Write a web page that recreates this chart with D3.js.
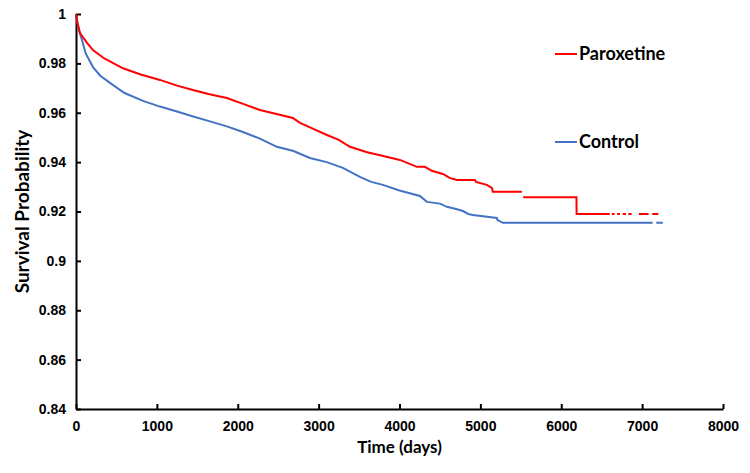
<!DOCTYPE html>
<html>
<head>
<meta charset="utf-8">
<script src="https://cdn.jsdelivr.net/npm/d3@7"></script>
<style>
  body { margin: 0; background: #fff; }
  .axis path, .axis line { stroke: #000; stroke-width: 2px; }
  .lbl { font-family: Lato, "Open Sans", sans-serif; font-weight: bold; fill: #000; }
</style>
</head>
<body>
<div id="chart"></div>
<script>
// survival curves (null = gap in the line)
const paroxetineT = [0, 20, 50, 136, 210, 350, 581, 800, 1038, 1250, 1446, 1650, 1866, 2074, 2274, 2480, 2682, 2769, 2900, 3103, 3250, 3387, 3600, 3800, 4005, 4215, 4313, 4400, 4536, 4620, 4709, 4932, 4945, 5080, 5142, 5154, 5513, 5516,
  5530, 6188, 6190, 6600, 6610, 6625, 6660, 6670, 6690, 6725, 6735, 6760, 6800, 6810, 6830, 6870, 6880, 6960, 7080, 7090, 7125, 7200]
const paroxetineS = [1, 0.996, 0.9923, 0.9883, 0.9854, 0.982, 0.978, 0.9755, 0.9733, 0.971, 0.9692, 0.9675, 0.966, 0.9635, 0.9611, 0.9595, 0.9579, 0.9559, 0.954, 0.951, 0.949, 0.9462, 0.944, 0.9425, 0.9409, 0.9381, 0.9381, 0.9365, 0.9352, 0.9336, 0.9328, 0.9328, 0.932, 0.9308, 0.9296, 0.928, 0.928, null,
  0.9258, 0.9258, 0.919, 0.919, null, 0.919, 0.919, null, 0.919, 0.919, null, 0.919, 0.919, null, 0.919, 0.919, null, 0.919, 0.919, null, 0.919, 0.919]

const controlT = [0, 20, 40, 74, 120, 210, 300, 420, 600, 828, 1038, 1248, 1450, 1656, 1866, 2064, 2274, 2484, 2690, 2892, 3100, 3300, 3510, 3650, 3795, 4000, 4252, 4339, 4500, 4586, 4700, 4784, 4850, 4907, 5204, 5210, 5278, 7130, 7140, 7175, 7256]
const controlS = [1, 0.996, 0.993, 0.9895, 0.984, 0.9785, 0.975, 0.9721, 0.968, 0.9648, 0.9625, 0.9605, 0.9585, 0.9565, 0.9545, 0.9522, 0.9495, 0.9462, 0.9445, 0.9417, 0.940, 0.9377, 0.934, 0.932, 0.9308, 0.9285, 0.9263, 0.9239, 0.9232, 0.9219, 0.921, 0.9202, 0.919, 0.9186, 0.9174, 0.9166, 0.9154, 0.9154, null, 0.9154, 0.9154]

const xTicks = [0, 1000, 2000, 3000, 4000, 5000, 6000, 7000, 8000]
const yTicks = [0.84, 0.86, 0.88, 0.9, 0.92, 0.94, 0.96, 0.98, 1]
const seriesNames = ["Paroxetine", "Control"]
const seriesColors = ["#ff0000", "#4472c4"]

const svgWidth = 750
const svgHeight = 473

let margin = { top: 14, right: 27, bottom: 64, left: 76 }
let width = svgWidth - margin.left - margin.right
let height = svgHeight - margin.top - margin.bottom

let svg = d3.select("#chart")
  .append("svg")
  .attr("width", svgWidth)
  .attr("height", svgHeight)

let chartGroup = svg.append("g")
  .attr("transform", `translate(${margin.left}, ${margin.top})`)

let x = d3.scaleLinear().domain([0, 8000]).range([0, width])
let y = d3.scaleLinear().domain([0.84, 1]).range([height, 0])

// axes, ticks point inward like the original
let xAxis = chartGroup.append("g")
  .attr("class", "axis")
  .attr("transform", `translate(0, ${height})`)
  .call(d3.axisBottom(x).tickValues(xTicks).tickSize(-5).tickSizeOuter(0).tickPadding(12).tickFormat(d3.format("d")))

let yAxis = chartGroup.append("g")
  .attr("class", "axis")
  .call(d3.axisLeft(y).tickValues(yTicks).tickSize(-5).tickSizeOuter(0).tickPadding(10).tickFormat(d => String(+d.toFixed(2))))

;[xAxis, yAxis].forEach(a => {
  a.attr("font-family", "'Liberation Sans', Arial, sans-serif")
    .attr("font-size", 14)
    .attr("font-weight", "bold")
  a.selectAll(".tick text").attr("fill", "#000")
})

let line = d3.line()
  .defined(d => d[1] != null)
  .x(d => x(d[0]))
  .y(d => y(d[1]))

let series = [
  paroxetineT.map((t, i) => [t, paroxetineS[i]]),
  controlT.map((t, i) => [t, controlS[i]])
]

// draw control first so red sits on top
;[1, 0].forEach(i => {
  chartGroup.append("path")
    .datum(series[i])
    .attr("fill", "none")
    .attr("stroke", seriesColors[i])
    .attr("stroke-width", 2)
    .attr("d", line)
})

// legend
let legendY = [54, 142]
seriesNames.forEach((name, i) => {
  svg.append("line")
    .attr("x1", 555).attr("x2", 577)
    .attr("y1", legendY[i]).attr("y2", legendY[i])
    .attr("stroke", seriesColors[i])
    .attr("stroke-width", 2)
  svg.append("text")
    .attr("class", "lbl")
    .attr("x", 579)
    .attr("y", legendY[i] + 6)
    .attr("font-size", "18px")
    .text(name)
})

// axis titles
svg.append("text")
  .attr("class", "lbl")
  .attr("x", margin.left + width / 2)
  .attr("y", 453)
  .attr("text-anchor", "middle")
  .attr("font-size", "17px")
  .text("Time (days)")

svg.append("text")
  .attr("class", "lbl")
  .attr("transform", `translate(29, ${margin.top + height / 2}) rotate(-90)`)
  .attr("text-anchor", "middle")
  .attr("font-size", "19px")
  .text("Survival Probability")
</script>
</body>
</html>
